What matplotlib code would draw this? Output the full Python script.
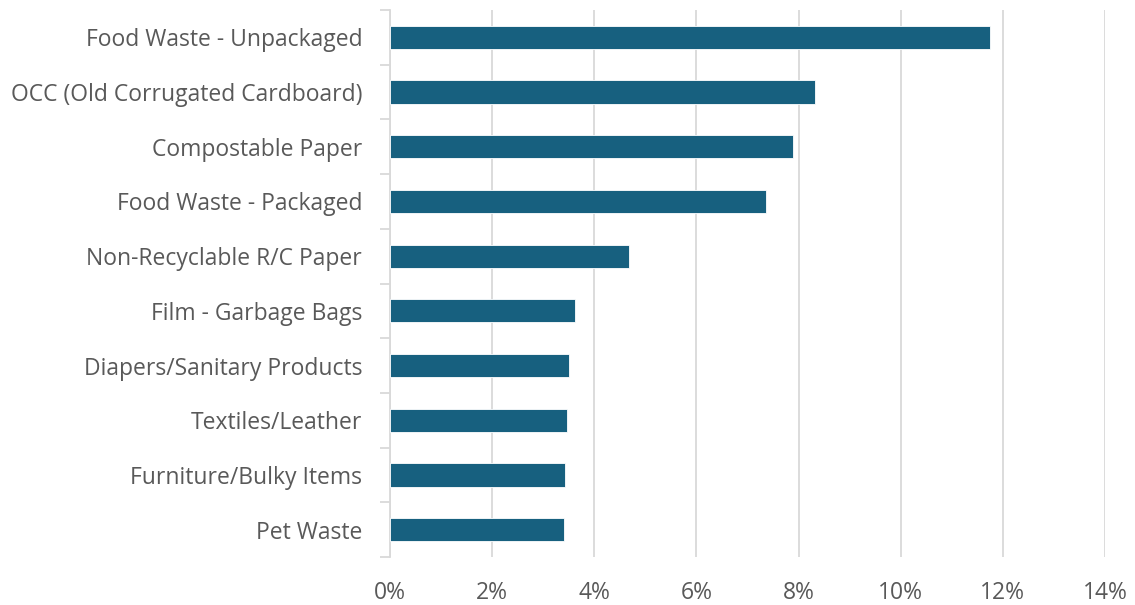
import matplotlib.pyplot as plt
import numpy as np
from matplotlib.ticker import PercentFormatter

categories = [
    "Food Waste - Unpackaged",
    "OCC (Old Corrugated Cardboard)",
    "Compostable Paper",
    "Food Waste - Packaged",
    "Non-Recyclable R/C Paper",
    "Film - Garbage Bags",
    "Diapers/Sanitary Products",
    "Textiles/Leather",
    "Furniture/Bulky Items",
    "Pet Waste",
]
shares = [11.74, 8.32, 7.90, 7.36, 4.67, 3.62, 3.51, 3.46, 3.43, 3.41]
x_ticks = [0, 2, 4, 6, 8, 10, 12, 14]

BAR_COLOR = "#17607f"
GRID_COLOR = "#d9d9d9"
TEXT_COLOR = "#595959"

plt.rcParams["font.family"] = ["Open Sans", "DejaVu Sans"]

fig = plt.figure(figsize=(11.35, 6.05), dpi=100)
ax = fig.add_axes([0.3436, 0.0793, 0.63, 0.9042])

y = np.arange(len(categories))
ax.barh(y, shares, height=0.425, color=BAR_COLOR, edgecolor="white",
        linewidth=0.6, zorder=3)

ax.set_ylim(len(categories) - 0.5, -0.5)
ax.set_yticks(y)
ax.set_yticklabels(categories)
# category boundaries get the small tick marks
ax.set_yticks(np.arange(len(categories) + 1) - 0.5, minor=True)
ax.tick_params(axis="y", which="major", length=0, pad=20,
               labelsize=16.5, labelcolor=TEXT_COLOR)
ax.tick_params(axis="y", which="minor", length=7, width=1.3, color=GRID_COLOR)

ax.set_xlim(0, 14)
ax.set_xticks(x_ticks)
ax.xaxis.set_major_formatter(PercentFormatter(decimals=0))
ax.tick_params(axis="x", length=0, pad=17, labelsize=16.5, labelcolor=TEXT_COLOR)
ax.grid(axis="x", color=GRID_COLOR, linewidth=1.3, zorder=0)

for side in ("top", "right", "bottom"):
    ax.spines[side].set_visible(False)
ax.spines["left"].set_color(GRID_COLOR)
ax.spines["left"].set_linewidth(1.3)

fig.savefig("out.png", dpi=100)
